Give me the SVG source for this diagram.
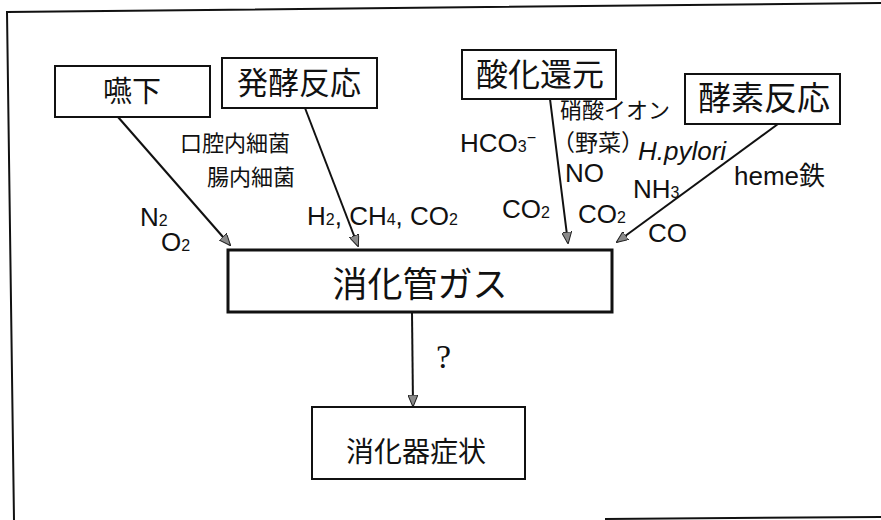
<svg xmlns="http://www.w3.org/2000/svg" width="881" height="520" viewBox="0 0 881 520">
<style>
.box{fill:#fff;stroke:#111;stroke-width:2}
.thick{stroke-width:3}
.jp{font-family:"Noto Sans CJK JP","Liberation Sans",sans-serif;fill:#111}
.lt{font-family:"Liberation Sans","Noto Sans CJK JP",sans-serif;fill:#111}
.conn{stroke:#111;stroke-width:2;fill:none;marker-end:url(#ah)}
.sub{font-size:16px}
</style>
<defs>
<marker id="ah" markerWidth="12" markerHeight="10" refX="11" refY="5" orient="auto" markerUnits="userSpaceOnUse">
<path d="M0,0 L12,5 L0,10 Z" fill="#8a8a8a" stroke="#222" stroke-width="1"/>
</marker>
</defs>
<rect width="881" height="520" fill="#fff"/>
<g id="frame" fill="none" stroke="#111" stroke-width="2">
<path d="M881,3 L7,12 L14,520"/>
<path d="M605,519 L881,517"/>
</g>
<g id="connectors">
<line class="conn" x1="118" y1="117" x2="230" y2="245"/>
<line class="conn" x1="305" y1="108" x2="358" y2="246"/>
<line class="conn" x1="550" y1="99" x2="568" y2="243"/>
<line class="conn" x1="778" y1="124" x2="617" y2="242"/>
<line class="conn" x1="412" y1="312" x2="413" y2="406"/>
</g>
<g id="n-enge"><rect class="box" x="55" y="66" width="155" height="51"/><text class="jp" x="132" y="102" font-size="29" text-anchor="middle">嚥下</text></g>
<g id="n-hakko"><rect class="box" x="222" y="58" width="155" height="50"/><text class="jp" x="299" y="94" font-size="31" text-anchor="middle">発酵反応</text></g>
<g id="n-sanka"><rect class="box" x="462" y="50" width="154" height="49"/><text class="jp" x="540" y="86" font-size="32" text-anchor="middle">酸化還元</text></g>
<g id="n-koso"><rect class="box" x="685" y="74" width="155" height="50"/><text class="jp" x="764" y="110" font-size="33" text-anchor="middle">酵素反応</text></g>
<g id="n-gas"><rect class="box thick" x="228" y="250" width="384" height="62"/><text class="jp" x="420" y="297" font-size="35" text-anchor="middle">消化管ガス</text></g>
<g id="n-shojo"><rect class="box" x="312" y="407" width="213" height="72"/><text class="jp" x="416" y="462" font-size="28" text-anchor="middle">消化器症状</text></g>
<g id="labels">
<text class="jp" x="180" y="151" font-size="22">口腔内細菌</text>
<text class="jp" x="207" y="185" font-size="22">腸内細菌</text>
<text class="lt" x="140" y="226" font-size="26">N<tspan class="sub">2</tspan></text>
<text class="lt" x="161" y="251" font-size="26">O<tspan class="sub">2</tspan></text>
<text class="lt" x="307" y="225" font-size="26">H<tspan class="sub">2</tspan>, CH<tspan class="sub">4</tspan>, CO<tspan class="sub">2</tspan></text>
<text class="lt" x="460" y="152" font-size="26">HCO<tspan class="sub">3</tspan><tspan class="sub" dy="-9">−</tspan></text>
<text class="lt" x="502" y="218" font-size="26">CO<tspan class="sub">2</tspan></text>
<text class="jp" x="560" y="118" font-size="22">硝酸イオン</text>
<text class="jp" x="552" y="151" font-size="23">（野菜）</text>
<text class="lt" x="638" y="160" font-size="26" font-style="italic">H.pylori</text>
<text class="lt" x="565" y="182" font-size="26">NO</text>
<text class="lt" x="633" y="198" font-size="26">NH<tspan class="sub">3</tspan></text>
<text class="lt" x="578" y="223" font-size="26">CO<tspan class="sub">2</tspan></text>
<text class="lt" x="734" y="185" font-size="26">heme<tspan class="jp">鉄</tspan></text>
<text class="lt" x="648" y="242" font-size="26">CO</text>
<text x="436" y="368" font-size="34" font-family="Liberation Serif, serif" fill="#111">?</text>
</g>
</svg>
